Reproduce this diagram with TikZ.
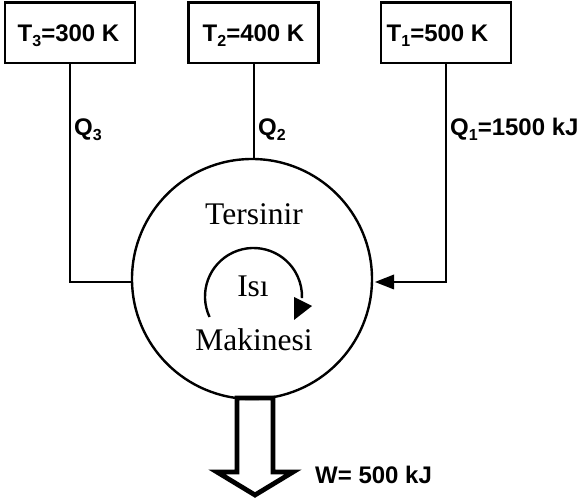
\documentclass[tikz,border=0pt]{standalone}
\usepackage{fontspec}
\setmainfont{Liberation Serif}
\newfontfamily\lsans{Liberation Sans}
\newcommand{\mysub}[1]{\raisebox{-4.5pt}{\fontsize{16}{16}\selectfont #1}}
\begin{document}
\begin{tikzpicture}[x=1pt,y=1pt,
  lbl/.style={font=\lsans\bfseries\fontsize{24}{26}\selectfont, inner sep=0pt},
  ctext/.style={font=\fontsize{31.5}{34}\selectfont, inner sep=0pt, anchor=base},
  wire/.style={line width=2.4pt},
  resbox/.style={draw, line width=2.4pt, minimum width=130pt, minimum height=60.5pt, inner sep=0pt}]
\useasboundingbox (0,0) rectangle (579,501);
% reservoirs
\node[resbox] (r3) at (70,468.25) {};
\node[resbox] (r2) at (253.5,468.25) {};
\node[resbox] (r1) at (446,468.25) {};
\node[lbl, anchor=base] (t3) at (68.5,459) {T\mysub{3}=300 K};
\node[lbl, anchor=base] (t2) at (253.5,459) {T\mysub{2}=400 K};
\node[lbl, anchor=base] (t1) at (437.5,459) {T\mysub{1}=500 K};
% engine
\node[draw, circle, line width=2.4pt, minimum size=240pt, inner sep=0pt] (eng) at (252,222) {};
\node[ctext] (ters) at (254,276) {Tersinir};
\node[ctext] (isi) at (253,204) {Isı};
\node[ctext] (mak) at (254,150) {Makinesi};
% cycle arrow
\coordinate (cyc) at (253.5,204.5);
\draw[wire] (cyc) ++(205:48.5) arc[start angle=205, end angle=-2, radius=48.5];
\fill (294,204) -- (294,181) -- (312,195) -- cycle;
% connectors
\coordinate (c3) at (70,219);
\coordinate (c1) at (446,219);
\draw[wire] (r3.south -| c3) -- (c3) -- (eng.west |- c3);
\draw[wire] (r2.south -| 254,0) -- (254,341.98);
\draw[wire] (r1.south -| c1) -- (c1) -- (394,219);
\fill (375,219) -- (394,226.5) -- (394,211.5) -- cycle;
% heat labels
\node[lbl, anchor=base west] (q3) at (74,365) {Q\mysub{3}};
\node[lbl, anchor=base west] (q2) at (258,365) {Q\mysub{2}};
\node[lbl, anchor=base west] (q1) at (450,365) {Q\mysub{1}=1500 kJ};
% work arrow
\draw[line width=4.8pt, miter limit=20] (237,103) -- (237,29) -- (217,29) -- (255,6) -- (293,29) -- (273,29) -- (273,103) -- cycle;
\node[lbl, anchor=base west] (w) at (315,17) {W= 500 kJ};
\end{tikzpicture}
\end{document}
